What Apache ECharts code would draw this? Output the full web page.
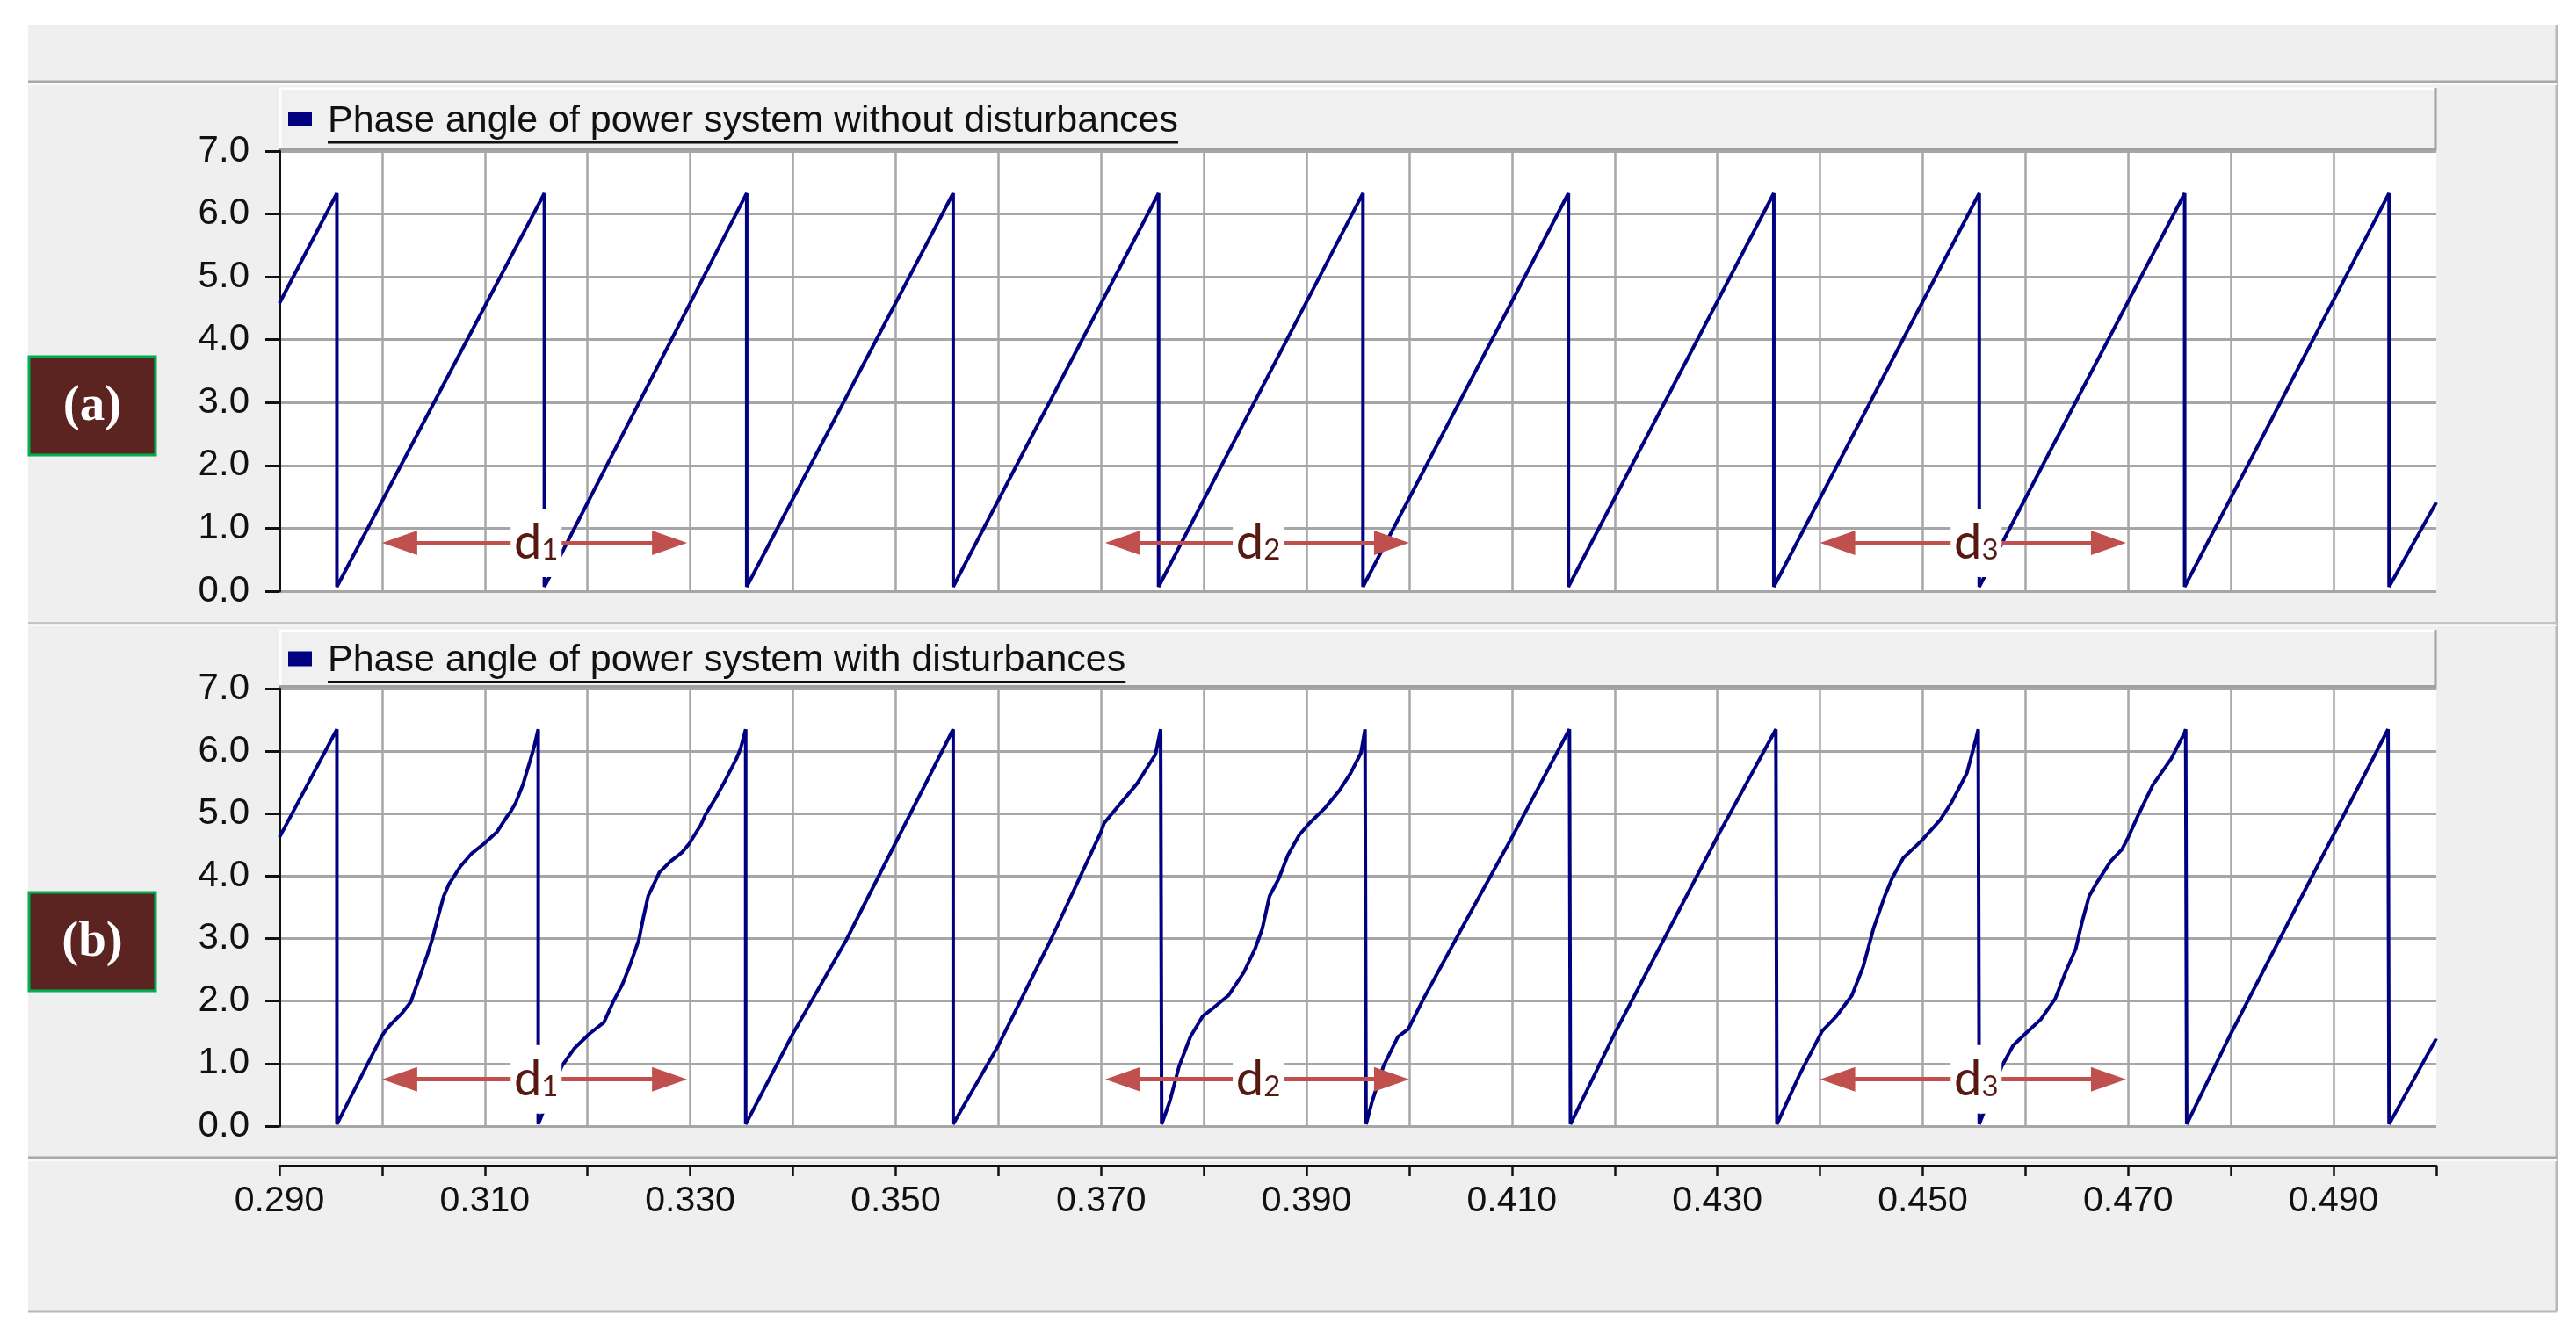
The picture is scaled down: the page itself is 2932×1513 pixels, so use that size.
<!DOCTYPE html>
<html>
<head>
<meta charset="utf-8">
<title>Phase angle of power system</title>
<script src="https://cdn.jsdelivr.net/npm/echarts@6/dist/echarts.min.js"></script>
<style>
  html, body { margin: 0; padding: 0; background: #fff; }
  #main { width: 2932px; height: 1513px; }
</style>
</head>
<body>
<div id="main"></div>
<script>
// ---- data ----
var nameA = 'Phase angle of power system without disturbances';
var nameB = 'Phase angle of power system with disturbances';
var panelTags = ['(a)', '(b)'];
var xTickLabels = [0.290, 0.310, 0.330, 0.350, 0.370, 0.390, 0.410, 0.430, 0.450, 0.470, 0.490];

// (a) without disturbances: time [s] / phase [rad]
var timeA = [0.2900, 0.2956, 0.2956, 0.3158, 0.3158, 0.3355, 0.3355, 0.3556, 0.3556, 0.3756, 0.3756,
             0.3955, 0.3955, 0.4155, 0.4155, 0.4355, 0.4355, 0.4555, 0.4555, 0.4755, 0.4755, 0.4954, 0.4954, 0.5000];
var phaseA = [4.58, 6.33, 0.07, 6.33, 0.07, 6.33, 0.07, 6.33, 0.07, 6.33, 0.07,
              6.33, 0.07, 6.33, 0.07, 6.33, 0.07, 6.33, 0.07, 6.33, 0.07, 6.33, 0.07, 1.41];

// (b) with disturbances
var timeB = [0.2900, 0.2956, 0.2956,
             0.3000, 0.3003, 0.3008, 0.3019, 0.3028, 0.3037, 0.3044, 0.3049, 0.3055, 0.3060, 0.3065, 0.3069,
             0.3076, 0.3087, 0.3100, 0.3112, 0.3121, 0.3125, 0.3130, 0.3137, 0.3144, 0.3148, 0.3152, 0.3152,
             0.3175, 0.3187, 0.3202, 0.3216, 0.3225, 0.3234, 0.3241, 0.3247, 0.3250, 0.3254, 0.3259, 0.3266,
             0.3270, 0.3281, 0.3292, 0.3299, 0.3310, 0.3315, 0.3324, 0.3335, 0.3345, 0.3349, 0.3354, 0.3354,
             0.3400, 0.3452, 0.3556, 0.3556,
             0.3600, 0.3651, 0.3700, 0.3703, 0.3735, 0.3753, 0.3758, 0.3759,
             0.3767, 0.3776, 0.3787, 0.3799, 0.3810, 0.3824, 0.3839, 0.3850, 0.3857, 0.3864, 0.3873, 0.3882,
             0.3893, 0.3903, 0.3918, 0.3932, 0.3943, 0.3953, 0.3957, 0.3958,
             0.3964, 0.3975, 0.3989, 0.3999, 0.4014, 0.4051, 0.4100, 0.4156, 0.4157,
             0.4200, 0.4301, 0.4357, 0.4358,
             0.4380, 0.4402, 0.4416, 0.4431, 0.4442, 0.4452, 0.4463, 0.4470, 0.4481, 0.4499, 0.4517, 0.4528,
             0.4543, 0.4552, 0.4554, 0.4555,
             0.4577, 0.4588, 0.4600, 0.4615, 0.4629, 0.4639, 0.4649, 0.4655, 0.4662, 0.4670, 0.4676, 0.4683,
             0.4694, 0.4700, 0.4709, 0.4724, 0.4742, 0.4755, 0.4756, 0.4757,
             0.4800, 0.4953, 0.4954, 0.5000];
var phaseB = [4.62, 6.35, 0.03,
              1.45, 1.52, 1.62, 1.80, 1.99, 2.41, 2.74, 3.00, 3.38, 3.68, 3.87, 3.97,
              4.15, 4.36, 4.53, 4.71, 4.94, 5.03, 5.17, 5.46, 5.84, 6.07, 6.35, 0.03,
              0.96, 1.24, 1.48, 1.66, 1.99, 2.27, 2.56, 2.84, 2.98, 3.31, 3.68, 3.92,
              4.06, 4.24, 4.38, 4.52, 4.81, 4.99, 5.23, 5.56, 5.88, 6.04, 6.35, 0.03,
              1.48, 2.98, 6.35, 0.03,
              1.29, 2.98, 4.71, 4.85, 5.48, 5.95, 6.35, 0.03,
              0.40, 0.96, 1.43, 1.76, 1.90, 2.09, 2.46, 2.84, 3.16, 3.68, 3.96, 4.34,
              4.66, 4.85, 5.09, 5.37, 5.65, 5.97, 6.35, 0.03,
              0.40, 0.96, 1.43, 1.55, 2.04, 3.16, 4.62, 6.35, 0.03,
              1.48, 4.66, 6.35, 0.03,
              0.82, 1.52, 1.76, 2.09, 2.55, 3.16, 3.68, 3.96, 4.29, 4.57, 4.90, 5.18,
              5.65, 6.21, 6.35, 0.03,
              0.96, 1.29, 1.48, 1.71, 2.04, 2.46, 2.84, 3.26, 3.68, 3.91, 4.06, 4.24,
              4.43, 4.62, 4.95, 5.46, 5.88, 6.30, 6.35, 0.03,
              1.48, 6.35, 0.03, 1.40];

// d1..d3 spans drawn as double arrows
var spanNames = ['d1', 'd2', 'd3'];
var spanFrom = [0.3000, 0.3704, 0.4400];
var spanTo = [0.3297, 0.4000, 0.4698];
var spanMid = [0.3150, 0.3853, 0.4552];
var spanLevel = [0.77, 0.75];

// ---- layout ----
var X_MIN = 0.29, X_MAX = 0.50;
var plotLeft = 318, plotWidth = 2455;
var grids = [{ top: 172, height: 501 }, { top: 784, height: 498 }];
var pxPerSec = plotWidth / (X_MAX - X_MIN);
var headHalf = 20 / pxPerSec;

var navy = '#000080';
var gridGray = '#a6a6a6';
var legendFont = '43px "Liberation Sans"';

function pairs(xs, ys) {
    return xs.map(function (x, i) { return [x, ys[i]]; });
}

function textWidth(str, font) {
    var ctx = document.createElement('canvas').getContext('2d');
    ctx.font = font;
    return ctx.measureText(str).width;
}

function spanMarks(level) {
    return {
        markLine: {
            silent: true,
            animation: false,
            symbol: ['triangle', 'triangle'],
            label: { show: false },
            emphasis: { disabled: true },
            lineStyle: { color: '#c0504d', width: 5, type: 'solid' },
            data: spanFrom.map(function (f, i) {
                return [
                    { coord: [f + headHalf, level], symbolSize: [28, 40] },
                    { coord: [spanTo[i] - headHalf, level], symbolSize: [28, 40] }
                ];
            })
        },
        markPoint: {
            silent: true,
            animation: false,
            z: 6,
            symbol: 'rect',
            symbolSize: [58, 78],
            itemStyle: { color: '#fff', borderWidth: 0 },
            label: {
                show: true,
                position: 'inside',
                formatter: function (p) { return '{d|d}{n|' + p.name.slice(1) + '}'; },
                rich: {
                    d: { fontFamily: 'Lato', fontSize: 56, color: '#561a12', verticalAlign: 'bottom' },
                    n: { fontFamily: 'Lato', fontSize: 33, color: '#561a12', verticalAlign: 'bottom', padding: [0, 0, 3, 0] }
                }
            },
            data: spanNames.map(function (n, i) {
                return { name: n, coord: [spanMid[i], level] };
            })
        }
    };
}

// legend-like header boxes, separators and panel tags
function headerBox(top, h, title) {
    var w = textWidth(title, legendFont);
    var mid = top + h / 2 + 2;
    return [
        { type: 'rect', z: -8, shape: { x: plotLeft, y: top, width: plotWidth, height: h }, style: { fill: '#f0f0f0' } },
        { type: 'line', z: -7, shape: { x1: plotLeft, y1: top + 1, x2: plotLeft + plotWidth, y2: top + 1 }, style: { stroke: '#fff', lineWidth: 3 } },
        { type: 'line', z: -7, shape: { x1: plotLeft + 1, y1: top, x2: plotLeft + 1, y2: top + h }, style: { stroke: '#fff', lineWidth: 3 } },
        { type: 'line', z: -7, shape: { x1: plotLeft, y1: top + h - 1, x2: plotLeft + plotWidth, y2: top + h - 1 }, style: { stroke: '#a0a0a0', lineWidth: 6 } },
        { type: 'line', z: -7, shape: { x1: plotLeft + plotWidth - 1, y1: top, x2: plotLeft + plotWidth - 1, y2: top + h }, style: { stroke: '#a0a0a0', lineWidth: 3 } },
        { type: 'rect', z: 10, shape: { x: 328, y: mid - 11, width: 27, height: 17 }, style: { fill: navy } },
        { type: 'text', z: 10, x: 373, y: mid, style: { text: title, font: legendFont, fill: '#111', verticalAlign: 'middle' } },
        { type: 'line', z: 10, shape: { x1: 373, y1: mid + 24, x2: 373 + w, y2: mid + 24 }, style: { stroke: '#111', lineWidth: 3 } }
    ];
}

function tagBox(y, tag) {
    return [
        { type: 'rect', z: 10, shape: { x: 33, y: y, width: 144, height: 112 }, style: { fill: '#5c2420', stroke: '#00b050', lineWidth: 3 } },
        { type: 'text', z: 11, x: 105, y: y + 57, style: { text: tag, font: 'bold 57px "Liberation Serif"', fill: '#fff', align: 'center', verticalAlign: 'middle' } }
    ];
}

function hline(y, color, width) {
    return { type: 'line', z: -9, shape: { x1: 32, y1: y, x2: 2910, y2: y }, style: { stroke: color, lineWidth: width } };
}

var graphics = [
    { type: 'rect', z: -20, shape: { x: 32, y: 28, width: 2878, height: 1465 }, style: { fill: '#efefef' } },
    { type: 'line', z: -9, shape: { x1: 2910, y1: 28, x2: 2910, y2: 1493 }, style: { stroke: '#b8b8b8', lineWidth: 3 } },
    hline(1493, '#b8b8b8', 3),
    hline(93, '#a8a8a8', 3), hline(96, '#fafafa', 2),
    hline(709, '#c4c4c4', 2), hline(712, '#fafafa', 2),
    hline(1318, '#a8a8a8', 3), hline(1321, '#fafafa', 2),
    { type: 'rect', z: -10, shape: { x: plotLeft, y: grids[0].top, width: plotWidth, height: grids[0].height }, style: { fill: '#fff' } },
    { type: 'rect', z: -10, shape: { x: plotLeft, y: grids[1].top, width: plotWidth, height: grids[1].height }, style: { fill: '#fff' } }
].concat(headerBox(100, 72, nameA), headerBox(717, 67, nameB), tagBox(406, panelTags[0]), tagBox(1016, panelTags[1]));

function xAxisFor(i) {
    var labelled = i === 1;
    return {
        type: 'value',
        gridIndex: i,
        min: X_MIN,
        max: X_MAX,
        interval: 0.01,
        position: 'bottom',
        offset: labelled ? 45 : 0,
        axisLine: { show: labelled, onZero: false, lineStyle: { color: '#111', width: 3 } },
        axisTick: { show: labelled, length: 12, lineStyle: { color: '#111', width: 2.5 } },
        axisLabel: {
            show: labelled,
            margin: 20,
            fontFamily: 'Liberation Sans',
            fontSize: 41,
            color: '#111',
            formatter: function (v) {
                var hit = xTickLabels.some(function (t) { return Math.abs(t - v) < 1e-6; });
                return hit ? v.toFixed(3) : '';
            }
        },
        splitLine: { show: true, showMaxLine: false, lineStyle: { color: gridGray, width: 2.5 } }
    };
}

function yAxisFor(i) {
    return {
        type: 'value',
        gridIndex: i,
        min: 0,
        max: 7,
        interval: 1,
        axisLine: { show: true, onZero: false, lineStyle: { color: '#111', width: 3 } },
        axisTick: { show: true, length: 16, lineStyle: { color: '#111', width: 3 } },
        axisLabel: {
            margin: 34,
            fontFamily: 'Liberation Sans',
            fontSize: 42,
            color: '#111',
            formatter: function (v) { return v.toFixed(1); }
        },
        splitLine: { show: true, lineStyle: { color: gridGray, width: 3 } }
    };
}

function traceSeries(i, name, xs, ys) {
    var s = {
        name: name,
        type: 'line',
        xAxisIndex: i,
        yAxisIndex: i,
        data: pairs(xs, ys),
        showSymbol: false,
        symbol: 'none',
        silent: true,
        animation: false,
        z: 2,
        lineStyle: { color: navy, width: 4 },
        itemStyle: { color: navy }
    };
    var m = spanMarks(spanLevel[i]);
    s.markLine = m.markLine;
    s.markPoint = m.markPoint;
    return s;
}

var option = {
    backgroundColor: '#fff',
    animation: false,
    graphic: { elements: graphics },
    grid: grids.map(function (g) {
        return { left: plotLeft, width: plotWidth, top: g.top, height: g.height, containLabel: false, outerBoundsMode: 'none', show: false };
    }),
    xAxis: [xAxisFor(0), xAxisFor(1)],
    yAxis: [yAxisFor(0), yAxisFor(1)],
    series: [
        traceSeries(0, nameA, timeA, phaseA),
        traceSeries(1, nameB, timeB, phaseB)
    ]
};

var myChart = echarts.init(document.getElementById('main'), null, { renderer: 'canvas' });
myChart.setOption(option);
</script>
</body>
</html>
